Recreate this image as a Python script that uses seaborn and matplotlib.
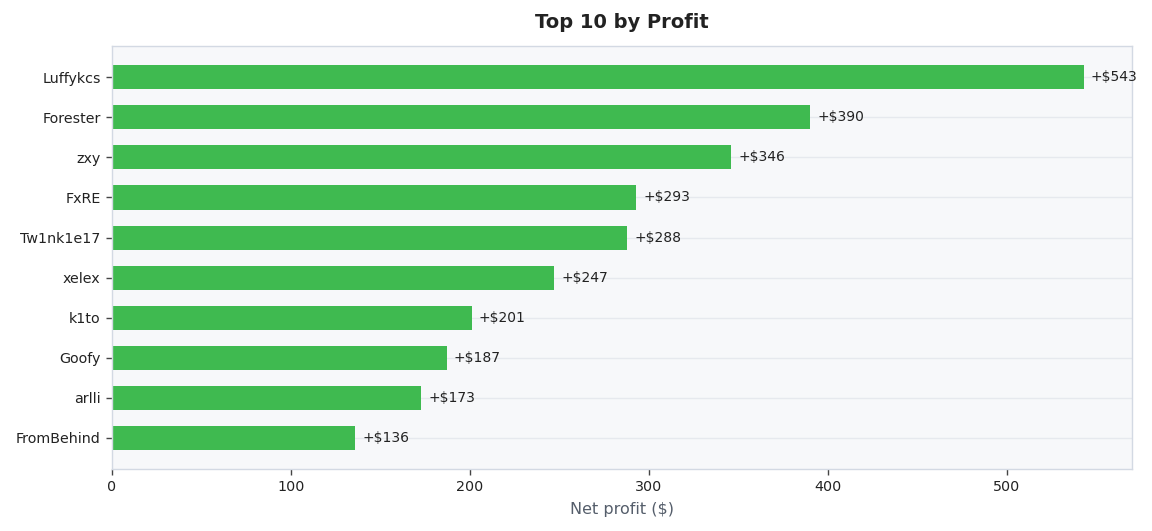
import matplotlib
matplotlib.use("Agg")
import matplotlib.pyplot as plt
import seaborn as sns
import pandas as pd

# top 10 players by net profit
players = ["Luffykcs", "Forester", "zxy", "FxRE", "Tw1nk1e17",
           "xelex", "k1to", "Goofy", "arlli", "FromBehind"]
profit = [543, 390, 346, 293, 288, 247, 201, 187, 173, 136]

df = pd.DataFrame({"player": players, "profit": profit})

sns.set_theme(style="whitegrid")
plt.rcParams['font.family'] = ['DejaVu Sans']

fig, ax = plt.subplots(figsize=(11.52, 5.31), dpi=100)
fig.subplots_adjust(left=0.097, right=0.983, top=0.913, bottom=0.117)

sns.barplot(data=df, x="profit", y="player", color="#3fba50", saturation=1,
            width=0.6, linewidth=0, ax=ax)

ax.set_facecolor("#f7f8fa")
for s in ax.spines.values():
    s.set_color("#d3d9e3")
    s.set_linewidth(1)
ax.grid(axis="x", visible=False)
ax.grid(axis="y", color="#e6e9ee", linewidth=1)
ax.set_axisbelow(True)

for i, v in enumerate(profit):
    ax.text(v + 4, i, f"+${v}", va="center", ha="left", fontsize=10, color="#222222")

ax.set_xlim(0, max(profit) * 1.05)
ax.set_ylim(len(players) - 1 + 0.78, -0.78)
ax.set_title("Top 10 by Profit", fontsize=14, fontweight="bold", color="#222222", pad=13)
ax.set_xlabel("Net profit ($)", fontsize=11.5, color="#555e6b", labelpad=6)
ax.set_ylabel("")
ax.tick_params(axis="both", labelsize=10.3, labelcolor="#222222", length=4, width=1,
               color="#444444", left=True, bottom=True, pad=4)

fig.savefig("out.png", dpi=100)
